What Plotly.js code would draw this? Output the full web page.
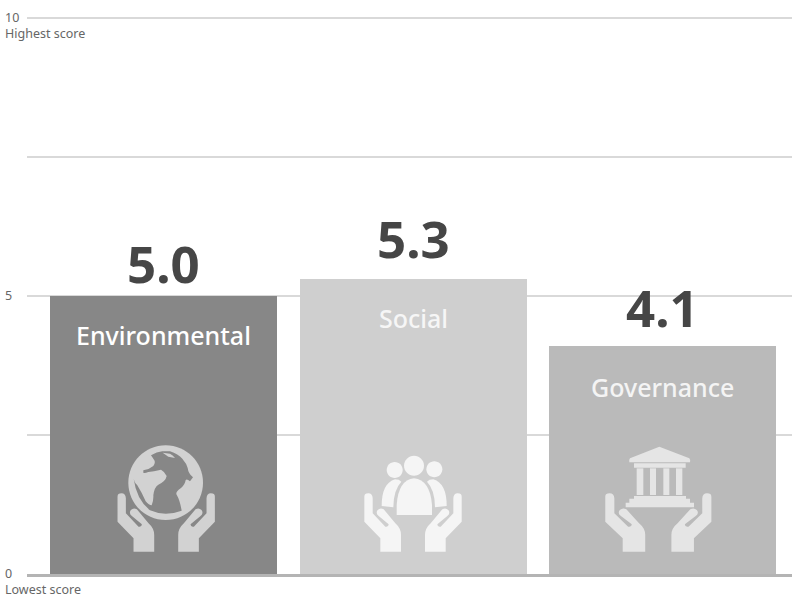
<!DOCTYPE html>
<html>
<head>
<meta charset="utf-8">
<script src="https://cdn.plot.ly/plotly-3.0.1.min.js"></script>
<style>html,body{margin:0;padding:0;background:#fff}</style>
</head>
<body>
<div id="chart" style="width:792px;height:595px"></div>
<script>
const categories = ['Environmental', 'Social', 'Governance'];
const scores = [5.0, 5.3, 4.1];
const scoreLabels = ['5.0', '5.3', '4.1'];
const scoreOffsets = [33, 41, 39];
const nameOffsets = [-39, -39, -41];
const barColors = ['#878787', '#cfcfcf', '#bababa'];
const iconColors = ['#d2d2d2', '#f5f5f5', '#e5e5e5'];
const labelColors = ['#ffffff', '#f6f6f6', '#f4f4f4'];
const tickValues = [0, 2.5, 5, 7.5, 10];
const axisValues = [10, 5, 0];
const axisLabels = ['10<br>Highest score', '5', '0<br>Lowest score'];
const FONT = '"Noto Sans", sans-serif';

// Icon outlines, in reference-crop units (3 per pixel); origin of hands is the icon axis at the wrist.
const HAND = 'M-146,-165 Q-146,-175 -134,-175 Q-122,-175 -121,-160 L-121,-115 L-83,-75 Q-73,-73 -73,-82 L-103,-107 Q-113,-115 -106,-125 Q-98,-133 -88,-127 L-53,-85 Q-36,-70 -36,-50 L-36,0 L-98,0 L-98,-40 L-146,-90 Z';
const GLOBE_OCEAN = 'M78,40 Q95,30 112,28 L135,28 Q160,36 172,50 Q185,65 188,78 Q190,95 204,106 L195,118 Q186,110 182,114 Q180,128 168,138 Q150,150 155,158 Q165,175 170,206 Q120,225 75,205 Q34,172 26,110 Q30,125 36,128 Q50,150 62,178 Q72,190 80,190 Q86,175 85,160 Q88,135 100,128 Q122,118 125,102 Q118,88 108,83 Q85,88 70,90 Q58,95 55,92 L55,85 Q70,84 85,72 Q92,62 88,55 Z';
const GLOBE_STREAK = 'M113,32 L135,35 Q145,40 150,48 L130,44 Z';
const PEOPLE = [
  'M170,255 L170,225 Q175,150 222,145 Q270,150 276,225 L276,255 Z',
  'M125,228 Q125,160 165,148 Q178,148 184,155 Q160,180 160,232 Z',
  'M320,228 Q320,160 280,148 Q267,148 261,155 Q285,180 285,232 Z'
];
const BANK = [
  'M208,50 L298,85 Q302,90 300,97 L118,97 Q116,90 120,85 Z',
  'M132,100 L287,100 L287,113 L132,113 Z',
  'M140,115 L160,115 L160,195 L140,195 Z',
  'M180,115 L198,115 L198,195 L180,195 Z',
  'M220,115 L238,115 L238,195 L220,195 Z',
  'M258,115 L277,115 L277,195 L258,195 Z',
  'M132,198 L288,198 L288,206 L300,206 L300,218 L312,218 L312,232 L107,232 L107,218 L118,218 L118,206 L132,206 Z'
];

const CX = [163.6, 413.1, 662.6];
const BASE = 574;
function conv(path, fx, fy) {
  return path.replace(/(-?[\d.]+),(-?[\d.]+)/g, (m, a, b) => fx(+a).toFixed(2) + ',' + fy(+b).toFixed(2));
}
function shape(i, path, color) {
  return {type: 'path', xref: 'x', yref: 'y', xsizemode: 'pixel', ysizemode: 'pixel',
    xanchor: i, yanchor: 0, path: path, fillcolor: color, line: {width: 0}, layer: 'above'};
}
function crop(i, ox, oy, path, color) {
  return shape(i, conv(path, x => ox + x / 3 - CX[i], y => BASE - (oy + y / 3)), color);
}
function hands(i, axisPx, k, color) {
  return [1, -1].map(sign => shape(i,
    conv(HAND, x => axisPx - CX[i] + sign * x * k / 3, y => BASE - 551.67 - y / 3), color));
}
function disk(cx, cy, r) {
  const c = r * 0.5523;
  return `M${cx - r},${cy} C${cx - r},${cy - c} ${cx - c},${cy - r} ${cx},${cy - r} C${cx + c},${cy - r} ${cx + r},${cy - c} ${cx + r},${cy} C${cx + r},${cy + c} ${cx + c},${cy + r} ${cx},${cy + r} C${cx - c},${cy + r} ${cx - r},${cy + c} ${cx - r},${cy} Z`;
}

const shapes = [];
shapes.push(...hands(0, 166.2, 1, iconColors[0]));
shapes.push(crop(0, 125, 442, disk(122, 122, 112), iconColors[0]));
shapes.push(crop(0, 125, 442, GLOBE_OCEAN, barColors[0]));
shapes.push(crop(0, 125, 442, GLOBE_STREAK, iconColors[0]));
shapes.push(...hands(1, 413, 1, iconColors[1]));
[[222, 107, 30], [164, 120, 24], [283, 118, 24]].forEach(c => shapes.push(crop(1, 340, 430, disk(c[0], c[1], c[2]), iconColors[1])));
PEOPLE.forEach(p => shapes.push(crop(1, 340, 430, p, iconColors[1])));
shapes.push(...hands(2, 658.3, 1.09, iconColors[2]));
BANK.forEach(p => shapes.push(crop(2, 590, 430, p, iconColors[2])));

const annotations = [];
categories.forEach((c, i) => annotations.push({
  x: c, y: scores[i], xref: 'x', yref: 'y', text: c, showarrow: false, yanchor: 'middle', xanchor: 'center',
  yshift: nameOffsets[i], font: {family: FONT, size: 25, color: labelColors[i], weight: 500}
}));
categories.forEach((c, i) => annotations.push({
  x: c, y: scores[i], xref: 'x', yref: 'y', text: scoreLabels[i], showarrow: false, yanchor: 'middle', xanchor: 'center',
  yshift: scoreOffsets[i], font: {family: FONT, size: 51, color: '#464646', weight: 700}
}));
axisValues.forEach((v, i) => annotations.push({
  x: 0, y: v, xref: 'paper', yref: 'y', text: axisLabels[i], showarrow: false, xanchor: 'left', yanchor: 'top', align: 'left',
  xshift: -24, yshift: 11, font: {family: FONT, size: 12.5, color: '#666666'}
}));

Plotly.newPlot('chart', [{
  type: 'bar', x: categories, y: scores, width: 0.9098,
  marker: {color: barColors, line: {width: 0}},
  hoverinfo: 'skip'
}], {
  width: 792, height: 595, margin: {l: 27, r: 0, t: 7, b: 21, pad: 0},
  paper_bgcolor: '#ffffff', plot_bgcolor: '#ffffff', showlegend: false, bargap: 0,
  xaxis: {type: 'category', range: [-0.5475, 2.5186], showticklabels: false, ticks: '', showgrid: false,
          zeroline: false, showline: true, linecolor: '#b4b4b4', linewidth: 3, fixedrange: true},
  yaxis: {range: [0, 10.2], tickvals: tickValues, showticklabels: false, ticks: '', showgrid: true,
          gridcolor: '#d9d9d9', gridwidth: 2, zeroline: false, showline: false, fixedrange: true},
  shapes: shapes, annotations: annotations
}, {staticPlot: true, displayModeBar: false});
</script>
</body>
</html>
